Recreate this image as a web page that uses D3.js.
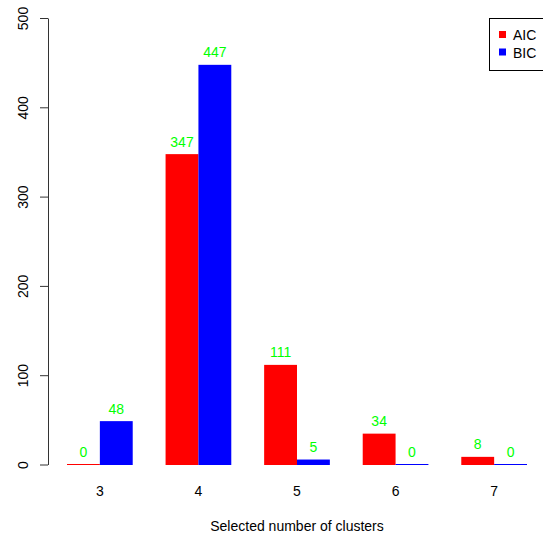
<!DOCTYPE html>
<html>
<head>
<meta charset="utf-8">
<script src="https://cdn.jsdelivr.net/npm/d3@7"></script>
<style>
  html, body { margin: 0; padding: 0; background: #fff; }
  svg { display: block; font-family: "Liberation Sans", Arial, sans-serif; }
</style>
</head>
<body>
<svg id="chart" width="543" height="538"></svg>
<script>
const categories = ["3", "4", "5", "6", "7"];
const seriesNames = ["AIC", "BIC"];
const aicValues = [0, 347, 111, 34, 8];
const bicValues = [48, 447, 5, 0, 0];
const yTicks = [0, 100, 200, 300, 400, 500];
const xTitle = "Selected number of clusters";
const colors = ["#FF0000", "#0000FF"];
const labelColor = "#00FF00";

const svg = d3.select("#chart");

// unit scale like R barplot (space = c(0,1)), plot region 0.44..15.56 units
const x = d3.scaleLinear().domain([0.44, 15.56]).range([48.6, 545.4]);
const y = d3.scaleLinear().domain([0, 500]).range([464.5, 18]);

const series = [aicValues, bicValues];
const bars = [];
categories.forEach((c, i) => {
  series.forEach((vals, s) => {
    const left = 1 + 3 * i + s;
    bars.push({ cat: c, s, v: vals[i], left, right: left + 1 });
  });
});

svg.append("g").selectAll("rect").data(bars).join("rect")
  .attr("x", d => x(d.left))
  .attr("width", d => x(d.right) - x(d.left))
  .attr("y", d => y(d.v) - 0.5)
  .attr("height", d => y(0) - y(d.v) + 1)
  .attr("fill", d => colors[d.s]);

svg.append("g").selectAll("text").data(bars).join("text")
  .attr("x", d => (x(d.left) + x(d.right)) / 2)
  .attr("y", d => y(d.v) - 8)
  .attr("text-anchor", "middle")
  .attr("font-size", 14)
  .attr("fill", labelColor)
  .text(d => d.v);

// y axis
const yAxis = d3.axisLeft(y).tickValues(yTicks).tickSize(8).tickPadding(12).tickSizeOuter(0);
const ga = svg.append("g").attr("transform", "translate(48,0)").call(yAxis);
ga.select(".domain").attr("stroke", "#333");
ga.selectAll(".tick line").attr("stroke", "#333");
ga.selectAll(".tick text")
  .attr("font-size", 14)
  .attr("fill", "#000")
  .attr("font-family", "Liberation Sans, Arial, sans-serif")
  .attr("text-anchor", "middle")
  .attr("dy", 0)
  .attr("x", 0)
  .attr("transform", "translate(-20,0) rotate(-90)");

// category labels
svg.append("g").selectAll("text").data(categories).join("text")
  .attr("x", (d, i) => x(2 + 3 * i))
  .attr("y", 496)
  .attr("text-anchor", "middle")
  .attr("font-size", 14)
  .attr("fill", "#000")
  .text(d => d);

// x title
svg.append("text")
  .attr("x", (x(0.44) + x(15.56)) / 2)
  .attr("y", 531)
  .attr("text-anchor", "middle")
  .attr("font-size", 14)
  .attr("fill", "#000")
  .text(xTitle);

// legend
const lg = svg.append("g");
lg.append("rect").attr("x", 489.5).attr("y", 18.5).attr("width", 80).attr("height", 52)
  .attr("fill", "none").attr("stroke", "#000").attr("stroke-width", 1);
seriesNames.forEach((n, i) => {
  lg.append("rect").attr("x", 499).attr("y", 31 + i * 17.5).attr("width", 7).attr("height", 7)
    .attr("fill", colors[i]);
  lg.append("text").attr("x", 513).attr("y", 40 + i * 17.5)
    .attr("font-size", 14).attr("fill", "#000").text(n);
});
</script>
</body>
</html>
